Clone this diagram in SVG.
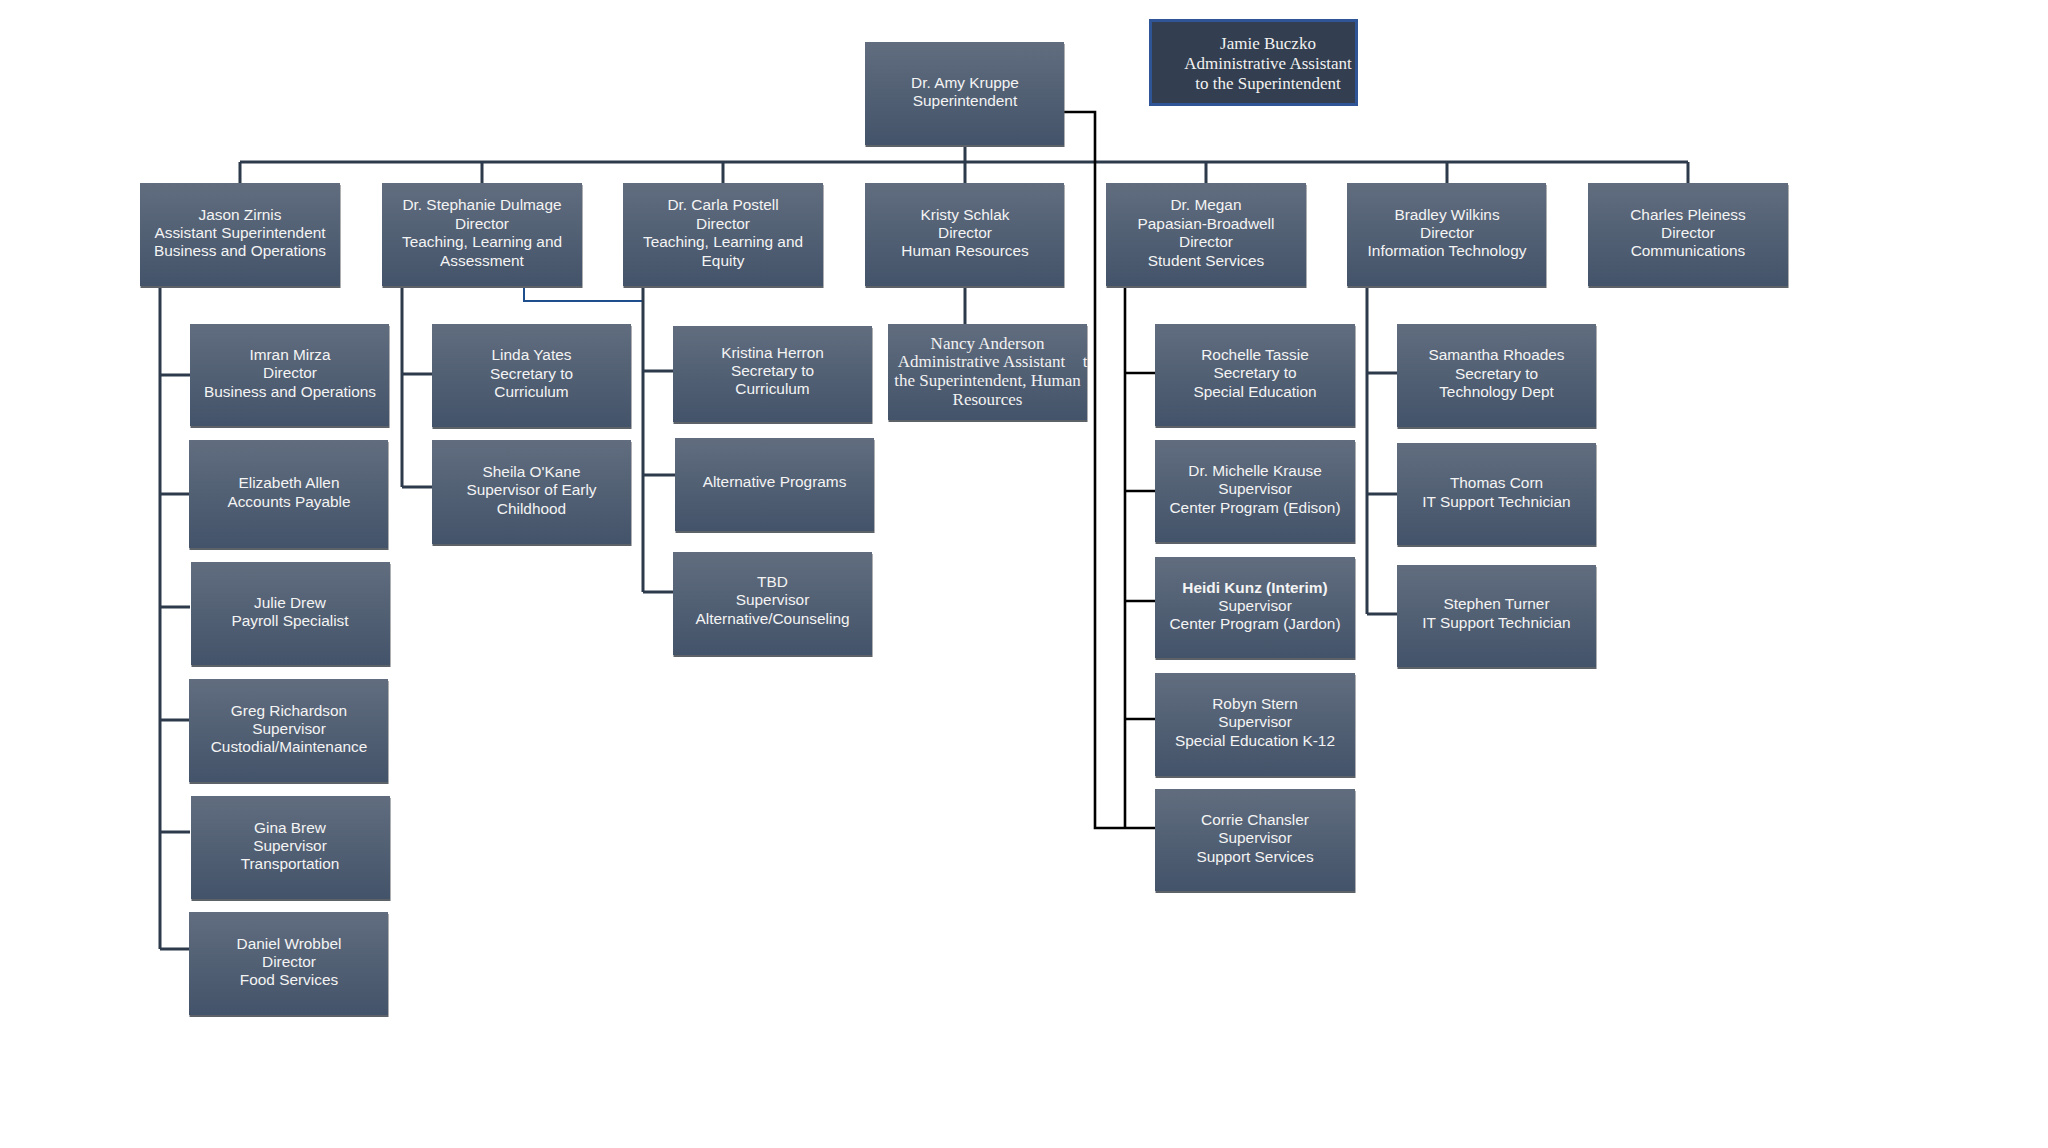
<svg xmlns="http://www.w3.org/2000/svg" width="2048" height="1148" viewBox="0 0 2048 1148">
<defs>
<linearGradient id="g" x1="0" y1="0" x2="0" y2="1">
<stop offset="0" stop-color="#616d7f"/>
<stop offset="1" stop-color="#435369"/>
</linearGradient>
<style>
.sh{fill:#5d6168;transform:translate(-0.5px,-1px)}
.bx{fill:url(#g)}
.t{font-family:"Liberation Sans",Arial,sans-serif;font-size:15.4px;fill:#f4f4f4;text-anchor:middle;transform:translateY(-1.8px)}
.b{font-weight:bold}
.s{font-family:"Liberation Serif","Times New Roman",serif;font-size:17px;fill:#f2f2f2;text-anchor:middle}
.ln{fill:none;stroke:#2d3a4b;stroke-width:3}
.bk{fill:none;stroke:#000;stroke-width:2.6}
.bl{fill:none;stroke:#1f4e8c;stroke-width:2}
</style>
</defs>
<rect width="2048" height="1148" fill="#fff"/>
<g id="connectors">
<path class="ln" d="M965 145V162M240 162H1688M240 162V183M482 162V183M723 162V183M965 162V183M1206 162V183M1447 162V183M1688 162V183"/>
<path class="ln" d="M160 286V949M160 375H190M160 494H190M160 607H190M160 720H190M160 832H190M160 949H190"/>
<path class="ln" d="M402 286V487M402 374H432M402 487H432"/>
<path class="bl" d="M524 286V301H642"/>
<path class="ln" d="M643 286V592M643 371H673M643 475H675M643 592H673"/>
<path class="ln" d="M965 287V324"/>
<path class="bk" d="M1064 112H1095V828H1155"/>
<path class="bk" d="M1125 286V828M1125 373H1155M1125 491H1155M1125 601H1155M1125 719H1155"/>
<path class="ln" d="M1367 286V614M1367 373H1397M1367 494H1397M1367 614H1397"/>
</g>
<g id="amy"><rect class="sh" x="866" y="45" width="199" height="103"/><rect class="bx" x="865" y="42" width="199" height="103"/>
<text class="t" x="965" y="89.7">Dr. Amy Kruppe</text><text class="t" x="965" y="108.1">Superintendent</text></g>
<g id="jamie"><rect x="1150.5" y="20.5" width="206" height="84" fill="#333f50" stroke="#2f5597" stroke-width="3"/>
<text class="s" x="1268" y="48.5">Jamie Buczko</text><text class="s" x="1268" y="69">Administrative Assistant</text><text class="s" x="1268" y="88.5">to the Superintendent</text></g>

<g id="jason"><rect class="sh" x="141" y="186" width="200" height="103"/><rect class="bx" x="140" y="183" width="200" height="103"/>
<text class="t" x="240" y="221.5">Jason Zirnis</text><text class="t" x="240" y="239.9">Assistant Superintendent</text><text class="t" x="240" y="258.3">Business and Operations</text></g>
<g id="stephanie"><rect class="sh" x="383" y="186" width="200" height="103"/><rect class="bx" x="382" y="183" width="200" height="103"/>
<text class="t" x="482" y="212.3">Dr. Stephanie Dulmage</text><text class="t" x="482" y="230.7">Director</text><text class="t" x="482" y="249.1">Teaching, Learning and</text><text class="t" x="482" y="267.5">Assessment</text></g>
<g id="carla"><rect class="sh" x="624" y="186" width="200" height="103"/><rect class="bx" x="623" y="183" width="200" height="103"/>
<text class="t" x="723" y="212.3">Dr. Carla Postell</text><text class="t" x="723" y="230.7">Director</text><text class="t" x="723" y="249.1">Teaching, Learning and</text><text class="t" x="723" y="267.5">Equity</text></g>
<g id="kristy"><rect class="sh" x="866" y="186" width="199" height="103"/><rect class="bx" x="865" y="183" width="199" height="103"/>
<text class="t" x="965" y="221.5">Kristy Schlak</text><text class="t" x="965" y="239.9">Director</text><text class="t" x="965" y="258.3">Human Resources</text></g>
<g id="megan"><rect class="sh" x="1107" y="186" width="200" height="103"/><rect class="bx" x="1106" y="183" width="200" height="103"/>
<text class="t" x="1206" y="212.3">Dr. Megan</text><text class="t" x="1206" y="230.7">Papasian-Broadwell</text><text class="t" x="1206" y="249.1">Director</text><text class="t" x="1206" y="267.5">Student Services</text></g>
<g id="bradley"><rect class="sh" x="1348" y="186" width="199" height="103"/><rect class="bx" x="1347" y="183" width="199" height="103"/>
<text class="t" x="1447" y="221.5">Bradley Wilkins</text><text class="t" x="1447" y="239.9">Director</text><text class="t" x="1447" y="258.3">Information Technology</text></g>
<g id="charles"><rect class="sh" x="1589" y="186" width="200" height="103"/><rect class="bx" x="1588" y="183" width="200" height="103"/>
<text class="t" x="1688" y="221.5">Charles Pleiness</text><text class="t" x="1688" y="239.9">Director</text><text class="t" x="1688" y="258.3">Communications</text></g>

<g id="imran"><rect class="sh" x="191" y="327" width="199" height="102"/><rect class="bx" x="190" y="324" width="199" height="102"/>
<text class="t" x="290" y="361.6">Imran Mirza</text><text class="t" x="290" y="380">Director</text><text class="t" x="290" y="398.4">Business and Operations</text></g>
<g id="elizabeth"><rect class="sh" x="190" y="443" width="199" height="108"/><rect class="bx" x="189" y="440" width="199" height="108"/>
<text class="t" x="289" y="490.2">Elizabeth Allen</text><text class="t" x="289" y="508.6">Accounts Payable</text></g>
<g id="julie"><rect class="sh" x="192" y="565" width="199" height="103"/><rect class="bx" x="191" y="562" width="199" height="103"/>
<text class="t" x="290" y="609.7">Julie Drew</text><text class="t" x="290" y="628.1">Payroll Specialist</text></g>
<g id="greg"><rect class="sh" x="190" y="682" width="199" height="103"/><rect class="bx" x="189" y="679" width="199" height="103"/>
<text class="t" x="289" y="717.5">Greg Richardson</text><text class="t" x="289" y="735.9">Supervisor</text><text class="t" x="289" y="754.3">Custodial/Maintenance</text></g>
<g id="gina"><rect class="sh" x="192" y="799" width="199" height="103"/><rect class="bx" x="191" y="796" width="199" height="103"/>
<text class="t" x="290" y="834.5">Gina Brew</text><text class="t" x="290" y="852.9">Supervisor</text><text class="t" x="290" y="871.3">Transportation</text></g>
<g id="daniel"><rect class="sh" x="190" y="915" width="199" height="103"/><rect class="bx" x="189" y="912" width="199" height="103"/>
<text class="t" x="289" y="950.5">Daniel Wrobbel</text><text class="t" x="289" y="968.9">Director</text><text class="t" x="289" y="987.3">Food Services</text></g>

<g id="linda"><rect class="sh" x="433" y="327" width="199" height="103"/><rect class="bx" x="432" y="324" width="199" height="103"/>
<text class="t" x="531.5" y="362.1">Linda Yates</text><text class="t" x="531.5" y="380.5">Secretary to</text><text class="t" x="531.5" y="398.9">Curriculum</text></g>
<g id="sheila"><rect class="sh" x="433" y="443" width="199" height="104"/><rect class="bx" x="432" y="440" width="199" height="104"/>
<text class="t" x="531.5" y="478.6">Sheila O'Kane</text><text class="t" x="531.5" y="497">Supervisor of Early</text><text class="t" x="531.5" y="515.4">Childhood</text></g>

<g id="kristina"><rect class="sh" x="674" y="329" width="199" height="96"/><rect class="bx" x="673" y="326" width="199" height="96"/>
<text class="t" x="772.5" y="359.5">Kristina Herron</text><text class="t" x="772.5" y="377.9">Secretary to</text><text class="t" x="772.5" y="396.3">Curriculum</text></g>
<g id="altprograms"><rect class="sh" x="676" y="441" width="199" height="93"/><rect class="bx" x="675" y="438" width="199" height="93"/>
<text class="t" x="774.5" y="489">Alternative Programs</text></g>
<g id="tbd"><rect class="sh" x="674" y="555" width="199" height="103"/><rect class="bx" x="673" y="552" width="199" height="103"/>
<text class="t" x="772.5" y="588.7">TBD</text><text class="t" x="772.5" y="607.1">Supervisor</text><text class="t" x="772.5" y="625.5">Alternative/Counseling</text></g>

<g id="nancy"><rect class="sh" x="889" y="327" width="199" height="96"/><rect class="bx" x="888" y="324" width="199" height="96"/>
<text class="s" x="987.5" y="348.5">Nancy Anderson</text><text class="s" x="981.5" y="367.3">Administrative Assistant</text><text class="s" x="1085" y="367.3">t</text><text class="s" x="987.5" y="386">the Superintendent, Human</text><text class="s" x="987.5" y="404.7">Resources</text></g>

<g id="rochelle"><rect class="sh" x="1156" y="327" width="200" height="102"/><rect class="bx" x="1155" y="324" width="200" height="102"/>
<text class="t" x="1255" y="361.6">Rochelle Tassie</text><text class="t" x="1255" y="380">Secretary to</text><text class="t" x="1255" y="398.4">Special Education</text></g>
<g id="michelle"><rect class="sh" x="1156" y="443" width="200" height="102"/><rect class="bx" x="1155" y="440" width="200" height="102"/>
<text class="t" x="1255" y="477.6">Dr. Michelle Krause</text><text class="t" x="1255" y="496">Supervisor</text><text class="t" x="1255" y="514.4">Center Program (Edison)</text></g>
<g id="heidi"><rect class="sh" x="1156" y="560" width="200" height="101"/><rect class="bx" x="1155" y="557" width="200" height="101"/>
<text class="t b" x="1255" y="594.5">Heidi Kunz (Interim)</text><text class="t" x="1255" y="612.9">Supervisor</text><text class="t" x="1255" y="631.3">Center Program (Jardon)</text></g>
<g id="robyn"><rect class="sh" x="1156" y="676" width="200" height="103"/><rect class="bx" x="1155" y="673" width="200" height="103"/>
<text class="t" x="1255" y="710.7">Robyn Stern</text><text class="t" x="1255" y="729.1">Supervisor</text><text class="t" x="1255" y="747.5">Special Education K-12</text></g>
<g id="corrie"><rect class="sh" x="1156" y="792" width="200" height="102"/><rect class="bx" x="1155" y="789" width="200" height="102"/>
<text class="t" x="1255" y="826.6">Corrie Chansler</text><text class="t" x="1255" y="845">Supervisor</text><text class="t" x="1255" y="863.4">Support Services</text></g>

<g id="samantha"><rect class="sh" x="1398" y="327" width="199" height="103"/><rect class="bx" x="1397" y="324" width="199" height="103"/>
<text class="t" x="1496.5" y="362.1">Samantha Rhoades</text><text class="t" x="1496.5" y="380.5">Secretary to</text><text class="t" x="1496.5" y="398.9">Technology Dept</text></g>
<g id="thomas"><rect class="sh" x="1398" y="446" width="199" height="102"/><rect class="bx" x="1397" y="443" width="199" height="102"/>
<text class="t" x="1496.5" y="490.2">Thomas Corn</text><text class="t" x="1496.5" y="508.6">IT Support Technician</text></g>
<g id="stephen"><rect class="sh" x="1398" y="568" width="199" height="102"/><rect class="bx" x="1397" y="565" width="199" height="102"/>
<text class="t" x="1496.5" y="611.2">Stephen Turner</text><text class="t" x="1496.5" y="629.6">IT Support Technician</text></g>
</svg>
